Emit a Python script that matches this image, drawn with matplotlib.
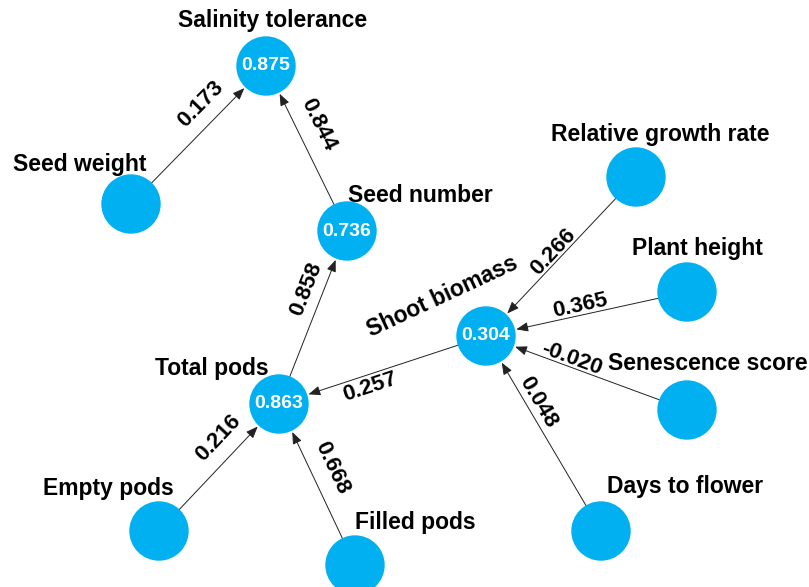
import numpy as np
import matplotlib.pyplot as plt
from matplotlib.patches import Circle

plt.rcParams['font.family'] = ['Liberation Sans', 'DejaVu Sans']

# nodes (layout in pixel units of the original picture)
names = ["Salinity tolerance", "Seed weight", "Seed number", "Total pods",
         "Empty pods", "Filled pods", "Shoot biomass", "Relative growth rate",
         "Plant height", "Senescence score", "Days to flower"]
node_x = [266, 131, 347, 279, 159, 355, 486, 636, 687, 687, 601]
node_y = [66, 204, 231, 404, 531, 565, 336, 177, 292, 410, 531]
r2_names = ["Salinity tolerance", "Seed number", "Total pods", "Shoot biomass"]
r2_vals = ["0.875", "0.736", "0.863", "0.304"]

# path coefficients
edge_src = ["Seed weight", "Seed number", "Total pods", "Shoot biomass",
            "Relative growth rate", "Plant height", "Senescence score",
            "Days to flower", "Empty pods", "Filled pods"]
edge_dst = ["Salinity tolerance", "Salinity tolerance", "Seed number", "Total pods",
            "Shoot biomass", "Shoot biomass", "Shoot biomass",
            "Shoot biomass", "Total pods", "Total pods"]
edge_coef = ["0.173", "0.844", "0.858", "0.257", "0.266", "0.365", "-0.020",
             "0.048", "0.216", "0.668"]

# where the edge labels sit: fraction along the edge, sideways offset
lab_t = [0.62, 0.59, 0.63, 0.58, 0.51, 0.52, 0.59, 0.63, 0.62, 0.55]
lab_off = [-20, 21, -17, -12, 9, 9, 8, 11, -21, 21]

# node title offsets
title_dx = {"Salinity tolerance": 7, "Seed weight": -51, "Seed number": 73,
            "Total pods": -67, "Empty pods": -51, "Filled pods": 60,
            "Shoot biomass": -44, "Relative growth rate": 24, "Plant height": 10,
            "Senescence score": 21, "Days to flower": 84}
title_dy = {"Salinity tolerance": -45, "Seed weight": -39, "Seed number": -36,
            "Total pods": -35, "Empty pods": -43, "Filled pods": -42,
            "Shoot biomass": -39, "Relative growth rate": -42, "Plant height": -44,
            "Senescence score": -47, "Days to flower": -44}

pos = {n: np.array([x, y], float) for n, x, y in zip(names, node_x, node_y)}
R = 29
blue = '#00B0F0'

fig = plt.figure(figsize=(8.09, 5.87), dpi=100)
ax = fig.add_axes([0, 0, 1, 1])
ax.set_xlim(0, 809)
ax.set_ylim(587, 0)
ax.axis('off')

for s, d, c, t, off in zip(edge_src, edge_dst, edge_coef, lab_t, lab_off):
    S, T = pos[s], pos[d]
    u = (T - S) / np.linalg.norm(T - S)
    a = S + u * R
    b = T - u * (R + 2)
    ax.annotate('', xy=b, xytext=a,
                arrowprops=dict(arrowstyle='-|>,head_length=0.55,head_width=0.22',
                                color='#222222', lw=0.7, mutation_scale=13,
                                shrinkA=0, shrinkB=0))
    n = np.array([-u[1], u[0]])
    L = S + t * (T - S) + off * n
    ang = np.degrees(np.arctan2(-u[1], u[0]))
    if ang > 90:
        ang -= 180
    elif ang < -90:
        ang += 180
    ax.text(L[0], L[1], c, rotation=ang, rotation_mode='anchor',
            ha='center', va='center', fontsize=16, fontweight='bold')

for n in names:
    x, y = pos[n]
    ax.add_patch(Circle((x, y), R, color=blue, zorder=3))
    rot = 25 if n == "Shoot biomass" else 0
    ax.text(x + title_dx[n], y + title_dy[n], n, ha='center', va='center',
            rotation=rot, rotation_mode='anchor',
            fontsize=16.5, fontweight='bold')

for n, v in zip(r2_names, r2_vals):
    x, y = pos[n]
    ax.text(x, y, v, ha='center', va='center', color='white',
            fontsize=14, fontweight='bold', zorder=4)

fig.savefig('out.png', dpi=100)
